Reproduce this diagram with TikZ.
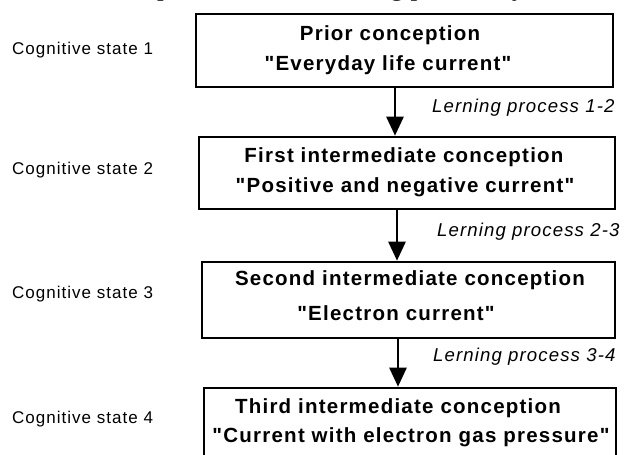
\documentclass[tikz,border=0pt]{standalone}
\usepackage{fontspec}
\setmainfont{Liberation Sans}[LetterSpace=6, Ligatures=TeXOff]
\newfontfamily\capfont{Liberation Serif}
\usetikzlibrary{arrows.meta}

\tikzset{
  box/.style={draw, line width=2.6pt, inner sep=0pt},
  title/.style={font=\fontsize{20.5}{24}\selectfont\bfseries, inner sep=0pt},
  state/.style={font=\fontsize{17}{20}\selectfont, anchor=west, inner sep=0pt},
  proc/.style={font=\fontsize{18.6}{22}\selectfont\itshape, anchor=west, inner sep=0pt},
  flow/.style={line width=2.6pt, -{Triangle[width=17pt,length=19pt]}},
}

\begin{document}
\begin{tikzpicture}[x=1pt, y=-1pt]
\useasboundingbox (0,0) rectangle (627,455);
\begin{scope}
\clip (0,0) rectangle (627,455);

% caption line above the chart (only its descenders lie on the page)
\node[anchor=base west, inner sep=0pt, font=\capfont\fontsize{27}{30}\selectfont] (caption)
  at (88,-5) {Conceptions and the learning process by};

% conception boxes
\node[box, minimum width=417pt, minimum height=73pt] (b1) at (404.5,50.5) {};
\node[box, minimum width=416pt, minimum height=72pt] (b2) at (407,173) {};
\node[box, minimum width=413pt, minimum height=76pt] (b3) at (408.5,300) {};
\node[box, minimum width=412pt, minimum height=92pt] (b4) at (410,434) {};

% box texts
\node[title] (t1a) at (390,35.5) {Prior conception};
\node[title] (t1b) at (388,65.5) {"Everyday life current"};
\node[title] (t2a) at (404,157) {First intermediate conception};
\node[title] (t2b) at (405,187) {"Positive and negative current"};
\node[title] (t3a) at (410,280) {Second intermediate conception};
\node[title] (t3b) at (396,313) {"Electron current"};
\node[title] (t4a) at (398,408) {Third intermediate conception};
\node[title] (t4b) at (411,437) {"Current with electron gas pressure"};

% cognitive states
\node[state] (s1) at (12,50) {Cognitive state 1};
\node[state] (s2) at (12,170) {Cognitive state 2};
\node[state] (s3) at (12,294) {Cognitive state 3};
\node[state] (s4) at (12,419) {Cognitive state 4};

% learning steps
\coordinate (x1) at (395,0);
\coordinate (x2) at (397,0);
\coordinate (x3) at (398,0);
\draw[flow] (b1.south -| x1) -- (b2.north -| x1);
\draw[flow] (b2.south -| x2) -- (b3.north -| x2);
\draw[flow] (b3.south -| x3) -- (b4.north -| x3);

\node[proc] (p1) at (432,108) {Lerning process 1-2};
\node[proc] (p2) at (437,232) {Lerning process 2-3};
\node[proc] (p3) at (433,357) {Lerning process 3-4};
\end{scope}
\end{tikzpicture}
\end{document}
